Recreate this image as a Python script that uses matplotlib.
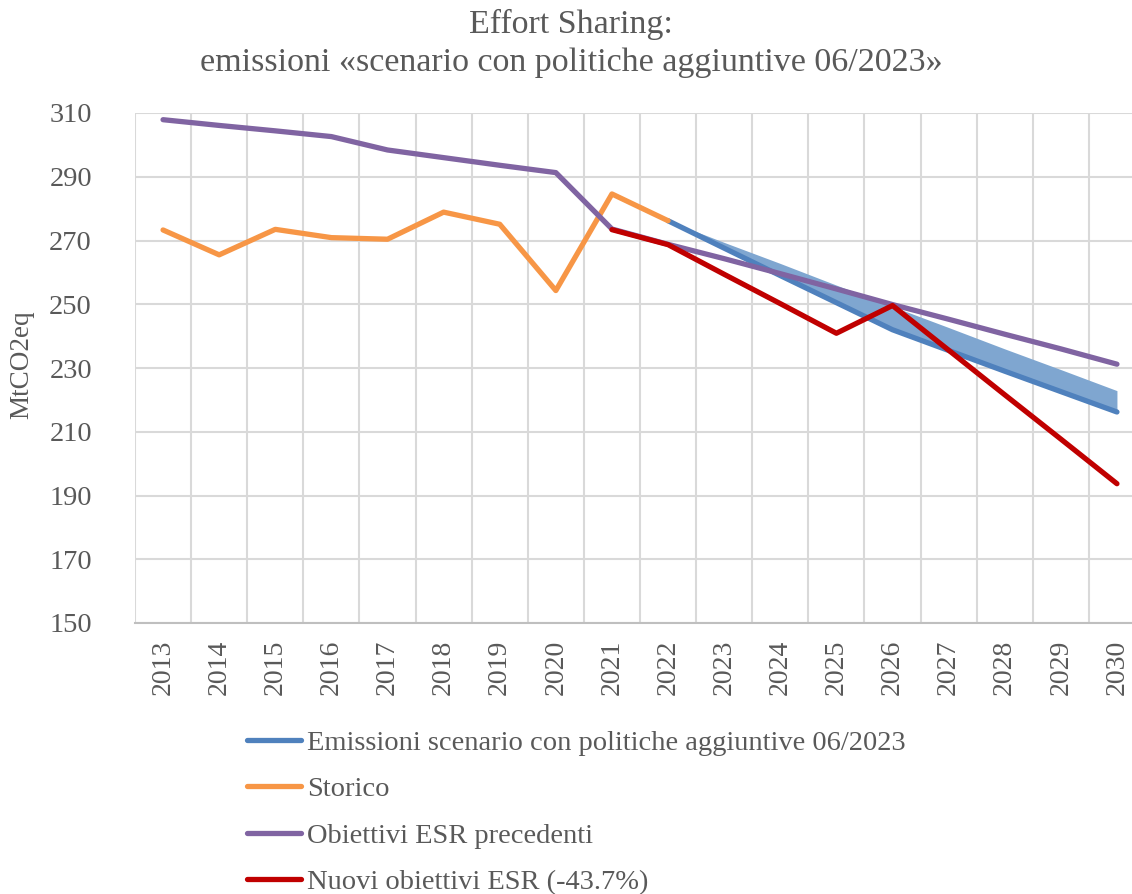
import matplotlib
matplotlib.use("Agg")
import matplotlib.pyplot as plt
import numpy as np

years = [str(y) for y in range(2013, 2031)]

storico = [273.3, 265.5, 273.5, 270.9, 270.4, 278.9, 275.1, 254.3, 284.6, 276.2,
           None, None, None, None, None, None, None, None]
scenario = [None, None, None, None, None, None, None, None, None, 276.2,
            267.6, 259.0, 250.5, 242.0, 235.5, 229.0, 222.6, 216.2]
scenario_upper = [None, None, None, None, None, None, None, None, None, 276.2,
                  269.4, 262.8, 256.0, 249.3, 242.7, 236.0, 229.5, 222.9]
obiettivi_prec = [307.9, 306.1, 304.4, 302.6, 298.4, 296.0, 293.6, 291.3, 273.6, 268.8,
                  264.3, 259.6, 254.8, 249.9, 245.3, 240.6, 236.0, 231.2]
nuovi_obiettivi = [None, None, None, None, None, None, None, None, 273.4, 268.7,
                   259.4, 250.2, 240.9, 249.6, 235.6, 221.6, 207.7, 193.7]

labels = ["Emissioni scenario con politiche aggiuntive 06/2023",
          "Storico",
          "Obiettivi ESR precedenti",
          "Nuovi obiettivi ESR (-43.7%)"]
title_line1 = "Effort Sharing:"
title_line2 = "emissioni \u00abscenario con politiche aggiuntive 06/2023\u00bb"
ylabel = "MtCO2eq"
yticks = list(range(150, 311, 20))

C_BLUE = "#4F81BD"
C_ORANGE = "#F79646"
C_PURPLE = "#8064A2"
C_RED = "#C00000"
C_TEXT = "#595959"
C_GRID = "#D9D9D9"

plt.rcParams['font.family'] = ['Liberation Serif', 'DejaVu Serif']

W, H = 1132, 894
fig = plt.figure(figsize=(W / 100, H / 100), dpi=100)
ax = fig.add_axes([135 / W, (H - 623) / H, (1145 - 135) / W, 510 / H])

x = np.arange(len(years))

def arr(v):
    return np.array([np.nan if a is None else a for a in v], dtype=float)

s_sc = arr(scenario)
s_up = arr(scenario_upper)
mask = ~np.isnan(s_sc)
ax.fill_between(x[mask], s_sc[mask], s_up[mask], color="#7FA6D0", alpha=1.0,
                lw=0, zorder=2)
lw = 3.8
ax.plot(x, s_sc, color=C_BLUE, lw=lw, solid_capstyle='round', zorder=3, label=labels[0])
ax.plot(x, arr(storico), color=C_ORANGE, lw=lw, solid_capstyle='round', zorder=4, label=labels[1])
ax.plot(x, arr(obiettivi_prec), color=C_PURPLE, lw=lw, solid_capstyle='round', zorder=5, label=labels[2])
ax.plot(x, arr(nuovi_obiettivi), color=C_RED, lw=lw, solid_capstyle='round', zorder=6, label=labels[3])

ax.set_xlim(-0.5, len(years) - 0.5)
ax.set_ylim(150, 310)
ax.set_yticks(yticks)
ax.set_yticklabels([str(t) for t in yticks], fontsize=20.5, color=C_TEXT)
ax.set_xticks(x)
ax.set_xticklabels(years, rotation=90, fontsize=20, color=C_TEXT)
ax.set_xticks(np.arange(-0.5, len(years)), minor=True)
ax.tick_params(axis='both', which='both', length=0)
ax.tick_params(axis='x', pad=12)
ax.tick_params(axis='y', pad=31)
ax.grid(axis='y', which='major', color=C_GRID, lw=1.5, zorder=0)
ax.grid(axis='x', which='minor', color=C_GRID, lw=1.5, zorder=0)
ax.set_axisbelow(True)
for sp in ['top', 'right', 'left']:
    ax.spines[sp].set_visible(False)
ax.spines['bottom'].set_color("#BFBFBF")
ax.spines['bottom'].set_linewidth(1.5)

fig.text(22 / W, 1 - 365 / H, ylabel, rotation=90, ha='center', va='center',
         fontsize=19.5, color=C_TEXT)
fig.text(571 / W, 1 - 33 / H, title_line1, ha='center', va='baseline',
         fontsize=24.5, color=C_TEXT)
fig.text(571 / W, 1 - 71 / H, title_line2, ha='center', va='baseline',
         fontsize=24.5, color=C_TEXT)

handles, labs = ax.get_legend_handles_labels()
fig.legend(handles, labs, loc='upper left', bbox_to_anchor=(247 / W, 1 - 730 / H),
           frameon=False, fontsize=20.5, labelcolor=C_TEXT, handlelength=1.9,
           handletextpad=0.22, labelspacing=0.72, borderpad=0, borderaxespad=0)

fig.savefig("out.png", dpi=100)
